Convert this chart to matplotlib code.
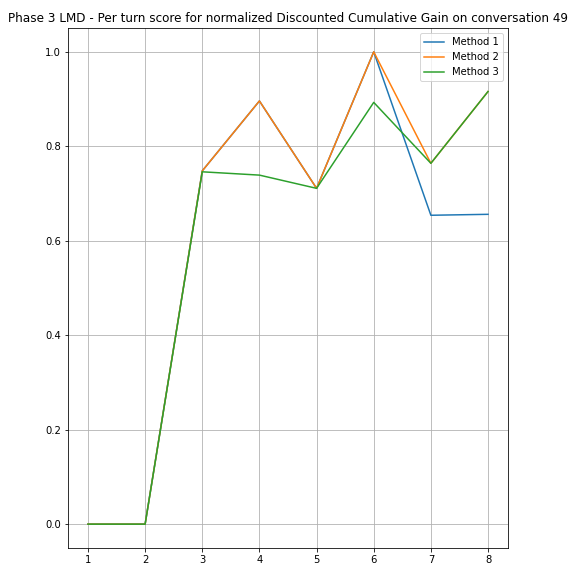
import matplotlib
matplotlib.use("Agg")
import matplotlib.pyplot as plt

turns = [1, 2, 3, 4, 5, 6, 7, 8]
method_1 = [0.0, 0.0, 0.748, 0.896, 0.711, 1.0, 0.654, 0.656]
method_2 = [0.0, 0.0, 0.748, 0.896, 0.711, 1.0, 0.764, 0.916]
method_3 = [0.0, 0.0, 0.746, 0.739, 0.711, 0.893, 0.764, 0.916]

fig = plt.figure(figsize=(8, 8), dpi=72)
ax = fig.add_subplot(111)
ax.plot(turns, method_1, label="Method 1")
ax.plot(turns, method_2, label="Method 2")
ax.plot(turns, method_3, label="Method 3")
ax.set_title("Phase 3 LMD - Per turn score for normalized Discounted Cumulative Gain on conversation 49")
ax.grid(True)
ax.legend(loc="upper right")
fig.subplots_adjust(left=0.118, right=0.882, top=0.951, bottom=0.049)
fig.savefig("out.png", dpi=72)
